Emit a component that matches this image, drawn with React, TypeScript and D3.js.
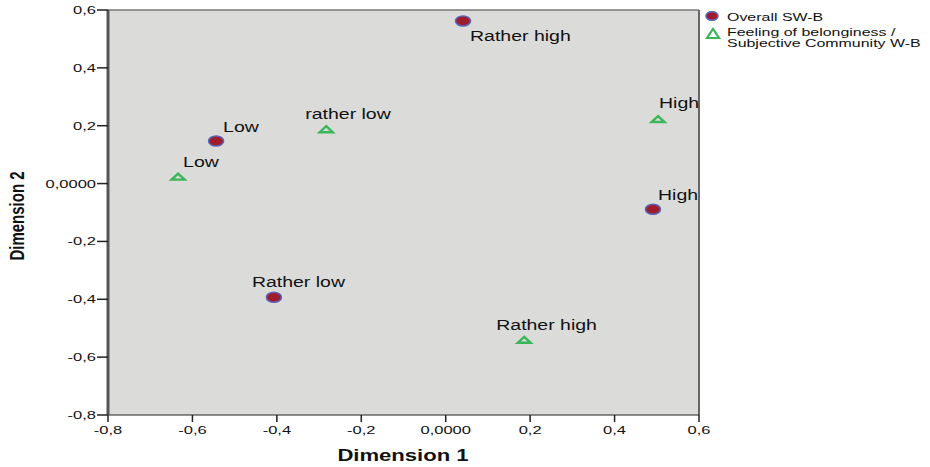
import React from "react";
import * as d3 from "d3";

// Category quantifications (object points) for the two variables
const swbCategories = ["Rather high", "Low", "High", "Rather low"];
const swbDim1 = [0.041, -0.544, 0.491, -0.407];
const swbDim2 = [0.562, 0.147, -0.089, -0.393];

const belongCategories = ["Low", "rather low", "High", "Rather high"];
const belongDim1 = [-0.634, -0.283, 0.503, 0.186];
const belongDim2 = [0.024, 0.188, 0.223, -0.54];

const xTicks = [-0.8, -0.6, -0.4, -0.2, 0.0, 0.2, 0.4, 0.6];
const yTicks = [-0.8, -0.6, -0.4, -0.2, 0.0, 0.2, 0.4, 0.6];
const xTickLabels = ["-0,8", "-0,6", "-0,4", "-0,2", "0,0000", "0,2", "0,4", "0,6"];
const yTickLabels = ["-0,8", "-0,6", "-0,4", "-0,2", "0,0000", "0,2", "0,4", "0,6"];

const legendLabels = ["Overall SW-B", "Feeling of belonginess /", "Subjective Community W-B"];

// Label placement relative to each point (text start, baseline)
const swbLabelOffsets = [[7, 20], [7, -9], [5, -9], [-22, -10]];
const belongLabelOffsets = [[5, -10], [-21, -10], [1, -11], [-28, -10]];

const W = 930;
const H = 467;
const plot = { left: 108, right: 699, top: 10, bottom: 415 };
const FONT = "'Liberation Sans', Arial, sans-serif";
const BG = "#dbdcda";
const RED = "#a01b2b";
const BLUE = "#5a63b4";
const GREEN = "#3db55b";

function STxt({ x, y, sx = 1.3, size = 15, weight = "normal", anchor = "start", rotate = 0, children }: any) {
  return (
    <text
      transform={`translate(${x},${y}) rotate(${rotate}) scale(${sx},1)`}
      fontFamily={FONT}
      fontSize={size}
      fontWeight={weight}
      textAnchor={anchor}
      fill="#111"
    >
      {children}
    </text>
  );
}

function Tri({ x, y, w = 16, h = 8, sw = 2.4 }: any) {
  const p = `${x - w / 2 + 1.5},${y + h / 2 - 1} ${x + w / 2 - 1.5},${y + h / 2 - 1} ${x},${y - h / 2 + 1}`;
  return <polygon points={p} fill={BG} stroke={GREEN} strokeWidth={sw} strokeLinejoin="miter" />;
}

export default function App() {
  const x = d3.scaleLinear().domain([-0.8, 0.6]).range([plot.left, plot.right]);
  const y = d3.scaleLinear().domain([-0.8, 0.6]).range([plot.bottom, plot.top]);

  return (
    <svg width={W} height={H} style={{ position: "absolute", left: 0, top: 0 }}>
      <rect x={0} y={0} width={W} height={H} fill="#fff" />
      <rect x={plot.left} y={plot.top} width={plot.right - plot.left} height={plot.bottom - plot.top} fill={BG} />
      {/* frame */}
      <line x1={plot.left} x2={plot.right} y1={plot.top} y2={plot.top} stroke="#777" strokeWidth={1.5} />
      <line x1={plot.right} x2={plot.right} y1={plot.top} y2={plot.bottom} stroke="#666" strokeWidth={2} />
      <line x1={plot.left} x2={plot.right} y1={plot.bottom} y2={plot.bottom} stroke="#222" strokeWidth={1.2} />
      <line x1={plot.left} x2={plot.left} y1={plot.top} y2={plot.bottom} stroke="#555" strokeWidth={3} />

      {/* y axis */}
      {yTicks.map((t, i) => (
        <g key={"y" + i}>
          <line x1={plot.left - 11} x2={plot.left} y1={y(t)} y2={y(t)} stroke="#222" strokeWidth={1.5} />
          <STxt x={plot.left - 12} y={y(t) + 4} size={11} sx={1.5} anchor="end">
            {yTickLabels[i]}
          </STxt>
        </g>
      ))}

      {/* x axis */}
      {xTicks.map((t, i) => (
        <g key={"x" + i}>
          <line x1={x(t)} x2={x(t)} y1={plot.bottom} y2={plot.bottom + 7} stroke="#222" strokeWidth={1.5} />
          <STxt x={x(t)} y={plot.bottom + 19} size={11} sx={1.5} anchor="middle">
            {xTickLabels[i]}
          </STxt>
        </g>
      ))}

      <STxt x={403} y={461} size={16} sx={1.38} weight="bold" anchor="middle">
        Dimension 1
      </STxt>
      <text
        transform={`translate(24,216) rotate(-90) scale(1,1.3)`}
        fontFamily={FONT}
        fontSize={15}
        fontWeight="bold"
        textAnchor="middle"
        fill="#111"
      >
        Dimension 2
      </text>

      {/* Feeling of belonginess points */}
      {belongCategories.map((c, i) => {
        const px = x(belongDim1[i]);
        const py = y(belongDim2[i]);
        return (
          <g key={"b" + i}>
            <Tri x={px} y={py} />
            <STxt x={px + belongLabelOffsets[i][0]} y={py + belongLabelOffsets[i][1]}>
              {c}
            </STxt>
          </g>
        );
      })}

      {/* Overall SW-B points */}
      {swbCategories.map((c, i) => {
        const px = x(swbDim1[i]);
        const py = y(swbDim2[i]);
        return (
          <g key={"s" + i}>
            <ellipse cx={px} cy={py} rx={7.5} ry={5} fill={RED} stroke={BLUE} strokeWidth={1.6} />
            <STxt x={px + swbLabelOffsets[i][0]} y={py + swbLabelOffsets[i][1]}>
              {c}
            </STxt>
          </g>
        );
      })}

      {/* legend */}
      <ellipse cx={712} cy={16} rx={6} ry={4.3} fill={RED} stroke={BLUE} strokeWidth={1.5} />
      <STxt x={727} y={21} size={11} sx={1.45}>{legendLabels[0]}</STxt>
      <polygon points="707,38 719,38 713,29" fill="#fff" stroke={GREEN} strokeWidth={2.2} />
      <STxt x={727} y={36} size={11} sx={1.45}>{legendLabels[1]}</STxt>
      <STxt x={727} y={47} size={11} sx={1.45}>{legendLabels[2]}</STxt>
    </svg>
  );
}
